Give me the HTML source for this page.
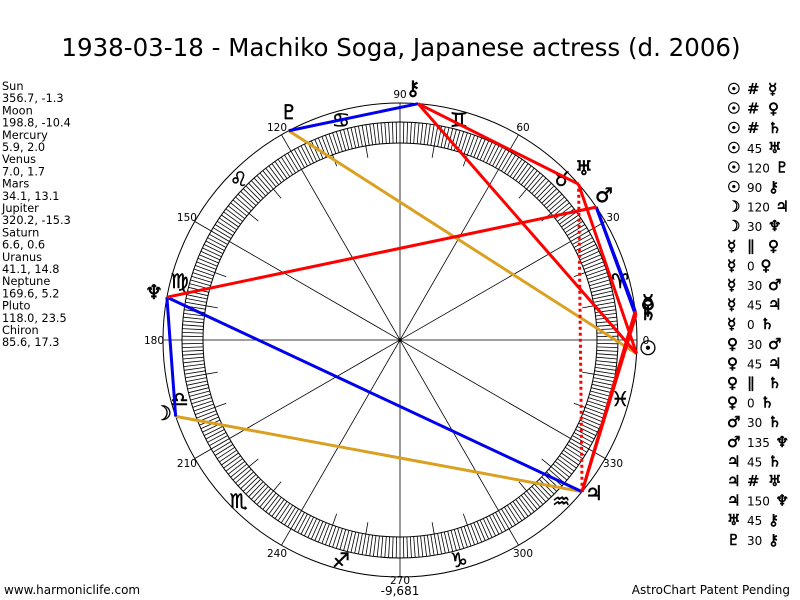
<!DOCTYPE html>
<html><head><meta charset="utf-8">
<style>
body{margin:0;background:#fff;width:800px;height:600px;overflow:hidden;font-family:"DejaVu Sans","Liberation Sans",sans-serif;}
svg{position:absolute;left:0;top:0}
</style></head><body>
<svg id="s" width="800" height="600" xmlns="http://www.w3.org/2000/svg" font-family="DejaVu Sans, Liberation Sans, sans-serif">
<rect width="800" height="600" fill="#fff"/>
<text x="401" y="56" font-size="24.5" text-anchor="middle" fill="#000">1938-03-18 - Machiko Soga, Japanese actress (d. 2006)</text>
<g id="left" font-size="11.3" fill="#000"></g>
<g id="right" font-size="15" font-weight="bold" fill="#000"></g>
<g id="chart"></g>
<text x="4" y="594" font-size="12">www.harmoniclife.com</text>
<text x="400" y="595" font-size="12" text-anchor="middle">-9,681</text>
<text x="790" y="594" font-size="12" text-anchor="end">AstroChart Patent Pending</text>
</svg>
<script>
var NS="http://www.w3.org/2000/svg";
function el(p,t,a,txt){var e=document.createElementNS(NS,t);for(var k in a)e.setAttribute(k,a[k]);if(txt!==undefined)e.textContent=txt;p.appendChild(e);return e;}
var L=document.getElementById('left');
var lt=["Sun","356.7, -1.3","Moon","198.8, -10.4","Mercury","5.9, 2.0","Venus","7.0, 1.7","Mars","34.1, 13.1","Jupiter","320.2, -15.3","Saturn","6.6, 0.6","Uranus","41.1, 14.8","Neptune","169.6, 5.2","Pluto","118.0, 23.5","Chiron","85.6, 17.3"];
lt.forEach(function(t,i){el(L,'text',{x:2,y:90+i*12.2},t);});
var R=document.getElementById('right');
var rt=[["☉","#","☿"],["☉","#","♀"],["☉","#","♄"],["☉","45","♅"],["☉","120","♇"],["☉","90","⚷"],["☽","120","♃"],["☽","30","♆"],["☿","∥","♀"],["☿","0","♀"],["☿","30","♂"],["☿","45","♃"],["☿","0","♄"],["♀","30","♂"],["♀","45","♃"],["♀","∥","♄"],["♀","0","♄"],["♂","30","♄"],["♂","135","♆"],["♃","45","♄"],["♃","#","♅"],["♃","150","♆"],["♅","45","⚷"],["♇","30","⚷"]];
rt.forEach(function(r,i){var y=94+i*19.6;el(R,'text',{x:727,y:y,stroke:'#000','stroke-width':0.6},r[0]);
 var sp=(r[1]=="#"||r[1]=="∥");var fs=sp?15:12;
 el(R,'text',{x:747,y:y,'font-size':fs,'font-weight':(sp?'bold':'normal')},r[1]);
 var w=r[1].length*7.5;el(R,'text',{x:sp?768:750+w+3,y:y,stroke:'#000','stroke-width':0.6},r[2]);});
var C=document.getElementById('chart');var cx=400,cy=340,RO=237;
function pt(a,r){var t=a*Math.PI/180;return [cx+r*Math.cos(t),cy-r*Math.sin(t)];}
el(C,'circle',{cx:cx,cy:cy,r:RO,fill:'none',stroke:'#000','stroke-width':1});
el(C,'circle',{cx:cx,cy:cy,r:218,fill:'none',stroke:'#000','stroke-width':1});
el(C,'circle',{cx:cx,cy:cy,r:197,fill:'none',stroke:'#000','stroke-width':1});
var d="";
for(var a=0;a<360;a++){var p=pt(a,197),q=pt(a,218);d+="M"+p[0].toFixed(1)+" "+p[1].toFixed(1)+"L"+q[0].toFixed(1)+" "+q[1].toFixed(1);}
for(var a=0;a<360;a+=10){if(a%30==0)continue;var p=pt(a,185),q=pt(a,197);d+="M"+p[0].toFixed(1)+" "+p[1].toFixed(1)+"L"+q[0].toFixed(1)+" "+q[1].toFixed(1);}
for(var a=0;a<180;a+=30){var p=pt(a,RO),q=pt(a+180,RO);d+="M"+p[0].toFixed(1)+" "+p[1].toFixed(1)+"L"+q[0].toFixed(1)+" "+q[1].toFixed(1);}
el(C,'path',{d:d,stroke:'#000','stroke-width':0.8,fill:'none'});
var signs="♈♉♊♋♌♍♎♏♐♑♒♓";
for(var i=0;i<12;i++){var p=pt(15+30*i,228);el(C,'text',{x:p[0],y:p[1]+7,'font-size':20,'text-anchor':'middle',stroke:'#000','stroke-width':0.5},signs[i]);}
for(var a=0;a<360;a+=30){var p=pt(a,246);var dy=(a==270)?-2:4;el(C,'text',{x:p[0],y:p[1]+dy,'font-size':10.5,'text-anchor':'middle'},String(a));}
var P={sun:356.7,moon:198.8,mer:5.9,ven:7.0,mar:34.1,jup:320.2,sat:6.6,ura:41.1,nep:169.6,plu:118.0,chi:85.6};
function line(a,b,col,dash){var p=pt(P[a],RO),q=pt(P[b],RO);var o={x1:p[0],y1:p[1],x2:q[0],y2:q[1],stroke:col,'stroke-width':3};if(dash)o['stroke-dasharray']='3,3';el(C,'line',o);}
var RED="#ff0000",BLUE="#0000ee",GOLD="#d9a021";
line('plu','sun',GOLD);line('moon','jup',GOLD);
line('chi','plu',BLUE);line('moon','nep',BLUE);line('nep','jup',BLUE);
line('mar','mer',BLUE);line('mar','ven',BLUE);line('mar','sat',BLUE);
line('nep','mar',RED);line('chi','ura',RED);line('chi','sun',RED);line('ura','sun',RED);
line('jup','mer',RED);line('jup','ven',RED);line('jup','sat',RED);
line('mer','ven',RED);line('mer','sat',RED);line('ven','sat',RED);
line('jup','ura',RED,true);
var G=[["☉",648,348],["☽",163,413],["☿",648,302],["♀",648,307],["♄",648,313],["♂",604,195],["♃",594,493],["♅",584,168],["♆",154,292],["♇",289,112],["⚷",413,88]];
G.forEach(function(g){el(C,'text',{x:g[1],y:g[2]+7,'font-size':20,'text-anchor':'middle',stroke:'#000','stroke-width':0.6},g[0]);});
</script>
</body></html>
